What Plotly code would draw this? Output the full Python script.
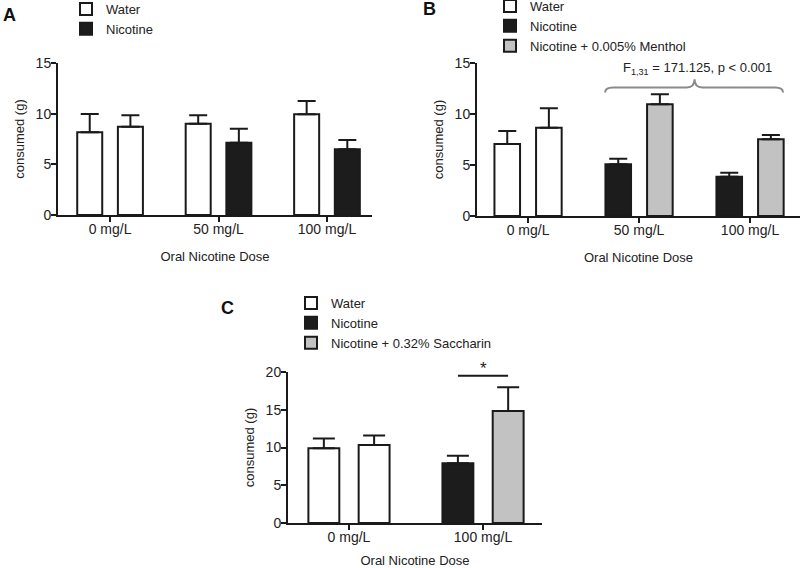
import plotly.graph_objects as go

# ---------------- data ----------------
doses_ab = ["0 mg/L", "50 mg/L", "100 mg/L"]
doses_c = ["0 mg/L", "100 mg/L"]

# Panel A
a_left_means = [8.16, 9.00, 9.94]      # Water (left bar of every group)
a_left_sem = [1.81, 0.84, 1.31]
a_right_water_mean = [8.72]            # Water (right bar, 0 mg/L)
a_right_water_sem = [1.12]
a_nic_means = [7.14, 6.50]             # Nicotine (50, 100 mg/L)
a_nic_sem = [1.38, 0.90]

# Panel B
b_water_left_mean = [7.06]
b_water_left_sem = [1.27]
b_water_right_mean = [8.66]
b_water_right_sem = [1.90]
b_nic_means = [5.07, 3.86]
b_nic_sem = [0.55, 0.39]
b_menthol_means = [10.95, 7.52]
b_menthol_sem = [0.98, 0.42]
b_stat_text = "F<sub>1,31</sub> = 171.125, p &lt; 0.001"

# Panel C
c_water_left_mean = [9.89]
c_water_left_sem = [1.31]
c_water_right_mean = [10.33]
c_water_right_sem = [1.27]
c_nic_means = [7.90]
c_nic_sem = [1.00]
c_sacc_means = [14.83]
c_sacc_sem = [3.14]

# ---------------- style ----------------
FONT = "Liberation Sans, Arial, sans-serif"
TXT = "#222222"
WHITE = "#ffffff"
BLACK = "#1c1c1c"
GRAY = "#c2c2c2"
OUT = "#1a1a1a"


def idx(cats, names):
    return [cats.index(n) for n in names]


def bar(name, cats, names, means, sem, color, og, xa, ya, legend, show, cap):
    return go.Bar(
        name=name, x=idx(cats, names), y=means, offsetgroup=og,
        xaxis=xa, yaxis=ya, legend=legend, showlegend=show,
        marker=dict(color=color, line=dict(color=OUT, width=2)),
        error_y=dict(type="data", symmetric=False, array=sem,
                     arrayminus=[0] * len(sem), color=OUT, thickness=2, width=cap),
        hoverinfo="skip",
    )


fig = go.Figure()

# Panel A
fig.add_trace(bar("Water", doses_ab, doses_ab, a_left_means, a_left_sem, WHITE, "L", "x", "y", "legend", True, 9))
fig.add_trace(bar("Water", doses_ab, ["0 mg/L"], a_right_water_mean, a_right_water_sem, WHITE, "R", "x", "y", "legend", False, 9))
fig.add_trace(bar("Nicotine", doses_ab, ["50 mg/L", "100 mg/L"], a_nic_means, a_nic_sem, BLACK, "R", "x", "y", "legend", True, 9))

# Panel B
fig.add_trace(bar("Water", doses_ab, ["0 mg/L"], b_water_left_mean, b_water_left_sem, WHITE, "L", "x2", "y2", "legend2", True, 9))
fig.add_trace(bar("Water", doses_ab, ["0 mg/L"], b_water_right_mean, b_water_right_sem, WHITE, "R", "x2", "y2", "legend2", False, 9))
fig.add_trace(bar("Nicotine", doses_ab, ["50 mg/L", "100 mg/L"], b_nic_means, b_nic_sem, BLACK, "L", "x2", "y2", "legend2", True, 9))
fig.add_trace(bar("Nicotine + 0.005% Menthol", doses_ab, ["50 mg/L", "100 mg/L"], b_menthol_means, b_menthol_sem, GRAY, "R", "x2", "y2", "legend2", True, 9))

# Panel C
fig.add_trace(bar("Water", doses_c, ["0 mg/L"], c_water_left_mean, c_water_left_sem, WHITE, "L", "x3", "y3", "legend3", True, 11))
fig.add_trace(bar("Water", doses_c, ["0 mg/L"], c_water_right_mean, c_water_right_sem, WHITE, "R", "x3", "y3", "legend3", False, 11))
fig.add_trace(bar("Nicotine", doses_c, ["100 mg/L"], c_nic_means, c_nic_sem, BLACK, "L", "x3", "y3", "legend3", True, 11))
fig.add_trace(bar("Nicotine + 0.32% Saccharin", doses_c, ["100 mg/L"], c_sacc_means, c_sacc_sem, GRAY, "R", "x3", "y3", "legend3", True, 11))

axis_common = dict(showline=True, linecolor=OUT, linewidth=2, ticks="outside",
                   ticklen=5, tickwidth=2, tickcolor=OUT, showgrid=False, zeroline=False,
                   tickfont=dict(family=FONT, size=14, color=TXT), automargin=False)


def xax(domain, cats, rng, anchor):
    return dict(domain=domain, anchor=anchor, range=rng, tickmode="array",
                tickvals=list(range(len(cats))), ticktext=cats, ticklabelstandoff=-5,
                title=dict(text="Oral Nicotine Dose", font=dict(family=FONT, size=13, color=TXT), standoff=16),
                **axis_common)


def yax(domain, rng, dt, anchor):
    return dict(domain=domain, anchor=anchor, range=rng, tickmode="linear", tick0=0, dtick=dt,
                ticklabelstandoff=-3,
                title=dict(text="consumed (g)", font=dict(family=FONT, size=13, color=TXT), standoff=8),
                **axis_common)


W, H = 800, 568
leg_font = dict(family=FONT, size=13, color=TXT)
fig.update_layout(
    width=W, height=H, margin=dict(l=0, r=0, t=0, b=0, autoexpand=False),
    paper_bgcolor="white", plot_bgcolor="white",
    barmode="group", bargap=0.25, bargroupgap=0.385,
    font=dict(family=FONT, color=TXT),
    xaxis=xax([58 / W, 372 / W], doses_ab, [-0.48, 2.415], "y"),
    yaxis=yax([1 - 215 / H, 1 - 63 / H], [0, 15], 5, "x"),
    xaxis2=xax([477 / W, 1.0], doses_ab, [-0.46, 2.45], "y2"),
    yaxis2=yax([1 - 216 / H, 1 - 63 / H], [0, 15], 5, "x2"),
    xaxis3=xax([288 / W, 542 / W], doses_c, [-0.455, 1.44], "y3"),
    yaxis3=yax([1 - 523 / H, 1 - 372 / H], [0, 20], 5, "x3"),
    legend=dict(x=66 / W, y=1 + 6 / H, xanchor="left", yanchor="top", bgcolor="rgba(0,0,0,0)",
                font=leg_font, tracegroupgap=0, traceorder="normal"),
    legend2=dict(x=490 / W, y=1 + 9 / H, xanchor="left", yanchor="top", bgcolor="rgba(0,0,0,0)",
                 font=leg_font, tracegroupgap=0, traceorder="normal"),
    legend3=dict(x=291 / W, y=1 - 288 / H, xanchor="left", yanchor="top", bgcolor="rgba(0,0,0,0)",
                 font=leg_font, tracegroupgap=0, traceorder="normal"),
)

# Panel letters
for letter, px, py in [("A", 9, 15), ("B", 429, 9), ("C", 227, 308)]:
    fig.add_annotation(text=f"<b>{letter}</b>", x=px / W, y=1 - py / H, xref="paper", yref="paper",
                       xanchor="center", yanchor="middle", showarrow=False,
                       font=dict(family=FONT, size=18, color="#111111"))

# Brace over 50 & 100 mg/L groups in panel B
i50, i100 = doses_ab.index("50 mg/L"), doses_ab.index("100 mg/L")
xl, xr = i50 - 0.306, i100 + 0.297
xm = (i50 + i100) / 2
yb, ye, yt = 12.6, 12.1, 13.4
c = 0.07
brace = (f"M {xl},{ye} Q {xl},{yb} {xl + c},{yb} L {xm - c},{yb} "
         f"Q {xm},{yb} {xm},{yt} Q {xm},{yb} {xm + c},{yb} L {xr - c},{yb} "
         f"Q {xr},{yb} {xr},{ye}")
fig.add_shape(type="path", path=brace, xref="x2", yref="y2", line=dict(color="#8a8a8a", width=2))
fig.add_annotation(text=b_stat_text, x=xm + 0.03, y=14.5, xref="x2", yref="y2", showarrow=False,
                   font=dict(family=FONT, size=13, color=TXT))

# Significance bar in panel C
i100c = doses_c.index("100 mg/L")
fig.add_shape(type="line", x0=i100c - 0.187, x1=i100c + 0.187, y0=19.5, y1=19.5,
              xref="x3", yref="y3", line=dict(color=OUT, width=2))
fig.add_annotation(text="*", x=i100c, y=0.945, xref="x3", yref="y3 domain", showarrow=False,
                   yanchor="bottom", font=dict(family=FONT, size=17, color=TXT))

fig.write_html("out.html", config={"displayModeBar": False},
               post_script="document.body.style.margin='0';document.body.style.overflow='hidden';")
